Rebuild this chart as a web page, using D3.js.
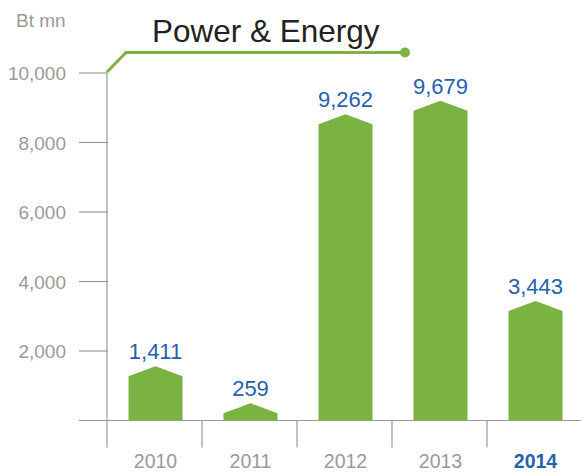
<!DOCTYPE html>
<html>
<head>
<meta charset="utf-8">
<script src="https://cdnjs.cloudflare.com/ajax/libs/d3/7.8.5/d3.min.js"></script>
<style>
  body { margin: 0; background: #fff; }
  text { font-family: "Liberation Sans", Arial, sans-serif; }
</style>
</head>
<body>
<script>
var years = ["2010", "2011", "2012", "2013", "2014"];
var values = [1411, 259, 9262, 9679, 3443];
var yTicks = [2000, 4000, 6000, 8000, 10000];
var title = "Power & Energy";
var unit = "Bt mn";

var svg = {
  "width" : 581,
  "height" : 472,
  "left" : 107,
  "right" : 583,
  "base" : 420.5,
  "top" : 73
}

var green = "#7ab342";
var blue = "#2661ae";
var grey = "#9a9a9a";

svg.whole = d3.select("body")
              .append("svg")
              .attr("width", svg.width)
              .attr("height", svg.height)
              .attr("class", "chart");

var x = d3.scaleBand()
          .domain(years)
          .range([svg.left + 1, svg.right]);

var y = d3.scaleLinear()
          .domain([0, 10000])
          .range([svg.base, svg.top]);

// bar peaks in the original do not sit on the axis scale
var peak = d3.scaleLinear()
             .domain([0, 10000])
             .range([svg.base - 9, svg.base - 330]);

var fmt = d3.format(",");

// y axis
svg.whole.append("line")
         .attr("x1", svg.left)
         .attr("x2", svg.left)
         .attr("y1", svg.top)
         .attr("y2", svg.base + 27)
         .attr("stroke", grey)
         .attr("stroke-width", 1.2);

svg.whole.selectAll("line.ytick")
         .data(yTicks)
         .enter()
         .append("line")
         .attr("class", "ytick")
         .attr("x1", 79)
         .attr("x2", svg.left + 1)
         .attr("y1", function(d) { return y(d); })
         .attr("y2", function(d) { return y(d); })
         .attr("stroke", grey)
         .attr("stroke-width", 1.2);

svg.whole.selectAll("text.ylabel")
         .data(yTicks)
         .enter()
         .append("text")
         .attr("class", "ylabel")
         .attr("x", 66)
         .attr("y", function(d) { return y(d) + 7; })
         .attr("text-anchor", "end")
         .attr("font-size", 19)
         .attr("fill", grey)
         .text(function(d) { return fmt(d); });

svg.whole.append("text")
         .attr("x", 16)
         .attr("y", 27)
         .attr("font-size", 19)
         .attr("fill", grey)
         .text(unit);

// x axis
svg.whole.append("line")
         .attr("x1", 79)
         .attr("x2", svg.width)
         .attr("y1", svg.base)
         .attr("y2", svg.base)
         .attr("stroke", grey)
         .attr("stroke-width", 1.2);

svg.whole.selectAll("line.sep")
         .data(years.slice(1))
         .enter()
         .append("line")
         .attr("class", "sep")
         .attr("x1", function(d) { return x(d) - 1; })
         .attr("x2", function(d) { return x(d) - 1; })
         .attr("y1", svg.base)
         .attr("y2", svg.base + 27)
         .attr("stroke", grey)
         .attr("stroke-width", 1.2);

svg.whole.selectAll("text.xlabel")
         .data(years)
         .enter()
         .append("text")
         .attr("class", "xlabel")
         .attr("x", function(d) { return x(d) + x.bandwidth() / 2; })
         .attr("y", 468)
         .attr("text-anchor", "middle")
         .attr("font-size", 19.5)
         .attr("font-weight", function(d, i) { return i == years.length - 1 ? "bold" : "normal"; })
         .attr("fill", function(d, i) { return i == years.length - 1 ? blue : grey; })
         .text(function(d) { return d; });

// bars with a pointed roof
var barW = 54;

svg.whole.selectAll("path.bar")
         .data(values)
         .enter()
         .append("path")
         .attr("class", "bar")
         .attr("fill", green)
         .attr("d", function(d, i) {
           var cx = x(years[i]) + x.bandwidth() / 2;
           var p = peak(d);
           return "M" + (cx - barW / 2) + "," + svg.base +
                  "L" + (cx - barW / 2) + "," + (p + 10) +
                  "L" + cx + "," + p +
                  "L" + (cx + barW / 2) + "," + (p + 10) +
                  "L" + (cx + barW / 2) + "," + svg.base + "Z";
         });

svg.whole.selectAll("text.value")
         .data(values)
         .enter()
         .append("text")
         .attr("class", "value")
         .attr("x", function(d, i) { return x(years[i]) + x.bandwidth() / 2; })
         .attr("y", function(d) { return peak(d) - 7; })
         .attr("text-anchor", "middle")
         .attr("font-size", 22)
         .attr("fill", blue)
         .text(function(d) { return fmt(d); });

// title with its leader line
svg.whole.append("path")
         .attr("d", "M" + svg.left + "," + (svg.top - 1) + "L126,52.5L405,52.5")
         .attr("fill", "none")
         .attr("stroke", green)
         .attr("stroke-width", 3);

svg.whole.append("circle")
         .attr("cx", 405)
         .attr("cy", 52.5)
         .attr("r", 5)
         .attr("fill", green);

svg.whole.append("text")
         .attr("x", 152)
         .attr("y", 42)
         .attr("font-size", 31.5)
         .attr("fill", "#222")
         .text(title);
</script>
</body>
</html>
